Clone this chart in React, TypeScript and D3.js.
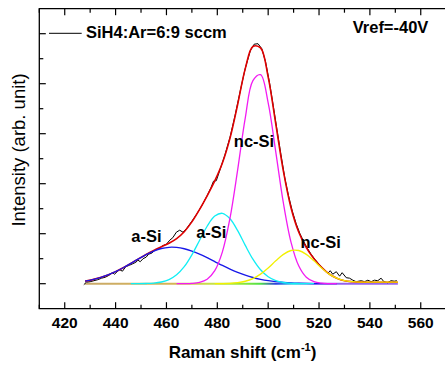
import React, { useEffect, useRef } from "react";
import * as d3 from "d3";

// wavenumber grid of the fitted curves (cm-1)
const fitX = [428, 431, 434, 437, 440, 443, 446, 449, 452, 455, 458, 461, 464, 467, 470, 473, 476, 479, 482, 485, 488, 491, 494, 497, 500, 503, 506, 509, 512, 515, 518, 521, 524, 527, 530, 533, 536, 539, 542, 545, 548, 551];

// fitted components (arb. unit)
const aSiWide = [0.052, 0.081, 0.122, 0.175, 0.242, 0.32, 0.407, 0.496, 0.581, 0.653, 0.704, 0.728, 0.725, 0.699, 0.653, 0.592, 0.52, 0.443, 0.365, 0.292, 0.227, 0.17, 0.124, 0.088, 0.06, 0.04, 0.026, 0.016, 0.01, 0.006, 0.003, 0.002, 0.001, 0, 0, 0, 0, 0, 0, 0, 0, 0];
const aSiNarrow = [0, 0, 0, 0, 0, 0, 0, 0.001, 0.004, 0.012, 0.034, 0.082, 0.178, 0.34, 0.577, 0.865, 1.149, 1.352, 1.408, 1.298, 1.06, 0.766, 0.49, 0.278, 0.139, 0.062, 0.024, 0.008, 0.003, 0.001, 0, 0, 0, 0, 0, 0, 0, 0, 0, 0, 0, 0];
const ncSiMain = [0, 0, 0, 0, 0, 0, 0, 0, 0, 0, 0, 0, 0, 0.001, 0.006, 0.026, 0.089, 0.26, 0.637, 1.314, 2.277, 3.317, 4.061, 4.18, 3.617, 2.631, 1.609, 0.827, 0.358, 0.13, 0.04, 0.01, 0.002, 0, 0, 0, 0, 0, 0, 0, 0, 0];
const ncSiSmall = [0, 0, 0, 0, 0, 0, 0, 0, 0, 0, 0, 0, 0, 0, 0, 0, 0, 0, 0.002, 0.007, 0.02, 0.049, 0.102, 0.191, 0.314, 0.457, 0.586, 0.664, 0.664, 0.586, 0.457, 0.314, 0.191, 0.11, 0.06, 0.04, 0.032, 0.03, 0.03, 0.03, 0.03, 0.03];
const fitSum = [0.052, 0.081, 0.122, 0.175, 0.242, 0.32, 0.407, 0.497, 0.585, 0.665, 0.738, 0.81, 0.903, 1.04, 1.236, 1.483, 1.758, 2.055, 2.412, 2.911, 3.584, 4.302, 4.745, 4.715, 4.13, 3.19, 2.245, 1.515, 1.035, 0.723, 0.5, 0.326, 0.194, 0.11, 0.06, 0.04, 0.032, 0.03, 0.03, 0.03, 0.03, 0.03];

// measured spectrum
const rawX = [427.5, 428.5, 430, 431.5, 433, 434.5, 436, 437.5, 438.7, 439.6, 440.6, 441.6, 442.7, 444, 445.5, 446.8, 448, 448.8, 449.7, 450.8, 452, 453, 454.2, 455.5, 457, 458.5, 460, 461.3, 462.5, 463.9, 465.2, 466.5, 468, 470, 472, 474, 476, 477.5, 478.5, 479.6, 481, 483, 485, 487, 489, 491, 493, 494.5, 496, 497.5, 499, 500.5, 502, 503.5, 505, 506.5, 508, 509.5, 511, 512.5, 514, 515.5, 517, 518.5, 520, 521.5, 523.5, 524.4, 525.4, 526.8, 528.1, 529.1, 530.7, 532, 533.3, 534.6, 536.6, 537.9, 539.2, 540.5, 541.8, 543.1, 544.4, 545.5, 547, 548.3, 549.6, 550.6];
const rawY = [-0.02, 0.03, 0.04, 0.06, 0.08, 0.11, 0.13, 0.17, 0.22, 0.19, 0.24, 0.28, 0.25, 0.34, 0.37, 0.4, 0.43, 0.47, 0.44, 0.5, 0.53, 0.59, 0.61, 0.67, 0.7, 0.76, 0.79, 0.87, 0.92, 1.03, 1.07, 1.03, 1.11, 1.25, 1.4, 1.57, 1.76, 1.92, 2.05, 2.06, 2.27, 2.58, 2.93, 3.37, 3.85, 4.31, 4.66, 4.79, 4.8, 4.7, 4.43, 4.03, 3.56, 3.07, 2.59, 2.13, 1.76, 1.45, 1.2, 1.0, 0.84, 0.7, 0.58, 0.48, 0.39, 0.3, 0.21, 0.26, 0.19, 0.24, 0.15, 0.22, 0.12, 0.11, 0.07, 0.04, 0.06, 0.04, 0.07, 0.04, 0.07, 0.06, 0.11, 0.04, 0.02, 0.06, 0.05, 0.06];

const xTicks = [420, 440, 460, 480, 500, 520, 540, 560];

const peakLabels = [
  { text: "a-Si", w: 446.2, v: 0.84 },
  { text: "a-Si", w: 471.7, v: 0.91 },
  { text: "nc-Si", w: 486.5, v: 2.73 },
  { text: "nc-Si", w: 512.7, v: 0.71 },
];

const FONT = "'Liberation Sans', Arial, Helvetica, sans-serif";

export default function App() {
  const ref = useRef<SVGSVGElement>(null);

  useEffect(() => {
    const width = 445, height = 365;
    const svg = d3.select(ref.current);
    svg.selectAll("*").remove();

    const x = d3.scaleLinear().domain([410, 580]).range([39.3, 39.3 + 170 * 2.543]);
    const y = d3.scaleLinear().domain([-0.5, 5.5]).range([308.7, 8.7]);

    // baseline strip where the component tails overlap
    const defs = svg.append("defs");
    const grad = defs.append("linearGradient")
      .attr("id", "base")
      .attr("gradientUnits", "userSpaceOnUse")
      .attr("x1", x(428)).attr("x2", x(551)).attr("y1", 0).attr("y2", 0);
    const stops: [number, string][] = [
      [428, "#c9a96a"], [462, "#d6b455"], [478, "#c8e048"], [490, "#8ee83a"],
      [497, "#4de046"], [503, "#2e3be0"], [510, "#3cd8e6"], [518, "#8e5cf0"],
      [551, "#9a6ae8"],
    ];
    stops.forEach(([w, c]) => grad.append("stop")
      .attr("offset", (w - 428) / (551 - 428)).attr("stop-color", c));

    svg.append("line")
      .attr("x1", x(428)).attr("x2", x(551))
      .attr("y1", y(0)).attr("y2", y(0))
      .attr("stroke", "url(#base)").attr("stroke-width", 2);

    const line = d3.line<[number, number]>()
      .x(d => x(d[0])).y(d => y(d[1]))
      .curve(d3.curveCatmullRom);

    // measured
    svg.append("path")
      .datum(rawX.map((w, i) => [w, rawY[i]] as [number, number]))
      .attr("d", d3.line<[number, number]>().x(d => x(d[0])).y(d => y(d[1])))
      .attr("fill", "none").attr("stroke", "#000").attr("stroke-width", 1);

    // cumulative fit
    svg.append("path")
      .datum(fitX.map((w, i) => [w, fitSum[i]] as [number, number]))
      .attr("d", line)
      .attr("fill", "none").attr("stroke", "#e00000").attr("stroke-width", 1.6);

    const trim = (vals: number[]) => {
      let a = vals.findIndex(v => v > 0);
      let b = vals.length - 1;
      while (b > 0 && vals[b] <= 0) b--;
      a = Math.max(0, a - 1);
      b = Math.min(vals.length - 1, b + 1);
      return fitX.slice(a, b + 1).map((w, i) => [w, vals[a + i]] as [number, number]);
    };

    const comps: [number[], string][] = [
      [aSiWide, "#1818e8"],
      [aSiNarrow, "#10eef4"],
      [ncSiMain, "#f21cf2"],
      [ncSiSmall, "#f2f000"],
    ];
    comps.forEach(([vals, c]) => {
      svg.append("path")
        .datum(trim(vals))
        .attr("d", line)
        .attr("fill", "none").attr("stroke", c).attr("stroke-width", 1.3);
    });

    // frame
    const left = x(410);
    svg.append("path")
      .attr("d", `M${width + 5},${y(5.5)}H${left}V${y(-0.5)}H${width + 5}`)
      .attr("fill", "none").attr("stroke", "#000").attr("stroke-width", 1.3);

    const minorX = d3.range(410, 581, 10);
    minorX.forEach(w => {
      const len = w % 20 === 0 ? 6.5 : 4;
      svg.append("line").attr("x1", x(w)).attr("x2", x(w))
        .attr("y1", y(-0.5)).attr("y2", y(-0.5) - len)
        .attr("stroke", "#000").attr("stroke-width", 1.2);
      svg.append("line").attr("x1", x(w)).attr("x2", x(w))
        .attr("y1", y(5.5)).attr("y2", y(5.5) + len)
        .attr("stroke", "#000").attr("stroke-width", 1.2);
    });
    d3.range(0, 5.01, 0.5).forEach(v => {
      const len = Number.isInteger(v) ? 6.5 : 4;
      svg.append("line").attr("x1", left).attr("x2", left + len)
        .attr("y1", y(v)).attr("y2", y(v))
        .attr("stroke", "#000").attr("stroke-width", 1.2);
    });

    svg.selectAll("text.tick")
      .data(xTicks)
      .enter()
      .append("text")
      .attr("x", d => x(d)).attr("y", y(-0.5) + 19)
      .attr("text-anchor", "middle")
      .attr("font-family", FONT).attr("font-weight", "bold").attr("font-size", 15.5)
      .text(d => d);

    // axis titles
    const xt = svg.append("text")
      .attr("x", 242.5).attr("y", 358.3)
      .attr("text-anchor", "middle")
      .attr("font-family", FONT).attr("font-weight", "bold").attr("font-size", 17);
    xt.append("tspan").text("Raman shift (cm");
    xt.append("tspan").attr("dy", -7).attr("font-size", 11).text("-1");
    xt.append("tspan").attr("dy", 7).text(")");

    svg.append("text")
      .attr("transform", "translate(25,150) rotate(-90)")
      .attr("text-anchor", "middle")
      .attr("font-family", FONT).attr("font-size", 18.5)
      .text("Intensity (arb. unit)");

    // legend
    svg.append("line").attr("x1", 49).attr("x2", 81.7).attr("y1", 33.3).attr("y2", 33.3)
      .attr("stroke", "#000").attr("stroke-width", 1);
    svg.append("text").attr("x", 86).attr("y", 37.7)
      .attr("font-family", FONT).attr("font-weight", "bold").attr("font-size", 16.5)
      .text("SiH4:Ar=6:9 sccm");
    svg.append("text").attr("x", 352.7).attr("y", 33.3)
      .attr("font-family", FONT).attr("font-weight", "bold").attr("font-size", 16.5)
      .text("Vref=-40V");

    svg.selectAll("text.peak")
      .data(peakLabels)
      .enter()
      .append("text")
      .attr("x", d => x(d.w)).attr("y", d => y(d.v))
      .attr("font-family", FONT).attr("font-weight", "bold").attr("font-size", 16.5)
      .text(d => d.text);
  }, []);

  return (
    <svg ref={ref} width={445} height={365}
      style={{ position: "absolute", left: 0, top: 0, background: "#fff" }} />
  );
}
